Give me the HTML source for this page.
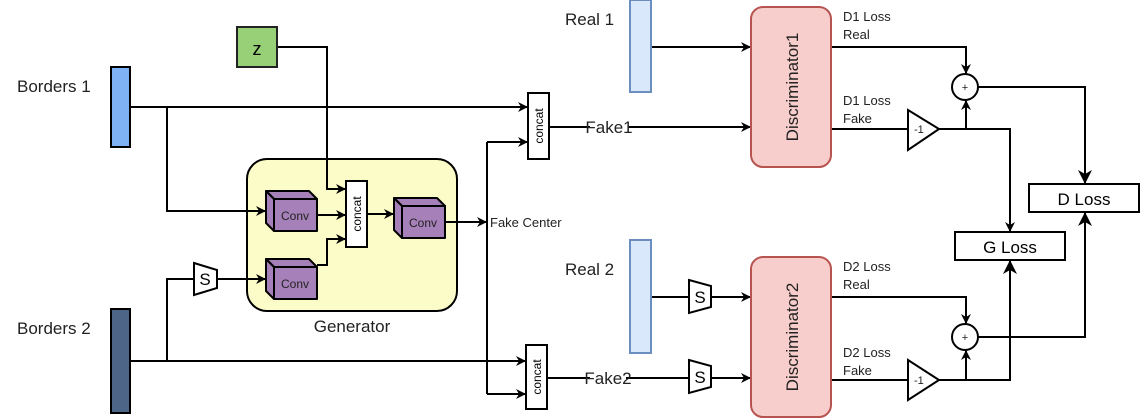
<!DOCTYPE html>
<html><head><meta charset="utf-8"><style>
html,body{margin:0;padding:0;background:#fff;}
svg{display:block;font-family:"Liberation Sans",Arial,sans-serif;}
</style></head><body>
<svg width="1140" height="420" viewBox="0 0 1140 420" xmlns="http://www.w3.org/2000/svg">
<defs>
<marker id="a" markerWidth="10" markerHeight="10" refX="9" refY="5" orient="auto" markerUnits="userSpaceOnUse">
<path d="M0,0 L10,5 L0,10 L3,5 Z" fill="#000"/></marker>
<marker id="b" markerWidth="14" markerHeight="14" refX="13" refY="7" orient="auto" markerUnits="userSpaceOnUse">
<path d="M0,0 L14,7 L0,14 L4,7 Z" fill="#000"/></marker>
</defs>
<!-- generator box first -->
<rect x="247" y="159" width="210" height="152" rx="20" fill="#fcfcc8" stroke="#000" stroke-width="2"/>
<text x="352" y="332" font-size="17" text-anchor="middle" fill="#222">Generator</text>
<g fill="none" stroke="#000" stroke-width="2">
<path d="M131,107 H527" marker-end="url(#a)"/>
<path d="M167,107 V211 H265" marker-end="url(#a)"/>
<path d="M277,47 H327 V189 H345" marker-end="url(#a)"/>
<path d="M317,215 H345" marker-end="url(#a)"/>
<path d="M317,265 H327 V239 H345" marker-end="url(#a)"/>
<path d="M367,214 H393" marker-end="url(#a)"/>
<path d="M445,222 H486" marker-end="url(#a)"/>
<path d="M487,142 V394"/>
<path d="M487,142 H527" marker-end="url(#a)"/>
<path d="M487,394 H525" marker-end="url(#a)"/>
<path d="M131,361 H525" marker-end="url(#a)"/>
<path d="M167,361 V279 H196"/>
<path d="M216,279 H265" marker-end="url(#a)"/>
<path d="M549,127 H590 M628,127 H750" marker-end="url(#a)"/>
<path d="M651,47 H750" marker-end="url(#a)"/>
<path d="M547,378 H590 M626,378 H690"/>
<path d="M711,378 H750" marker-end="url(#a)"/>
<path d="M651,297 H690"/>
<path d="M711,297 H750" marker-end="url(#a)"/>
<path d="M831,47 H966 V73" marker-end="url(#a)"/>
<path d="M831,129 H908"/>
<path d="M939,129 H1010 V231" marker-end="url(#a)"/>
<path d="M966,129 V101" marker-end="url(#a)"/>
<path d="M978,87 H1085 V183" marker-end="url(#b)"/>
<path d="M831,297 H966 V323" marker-end="url(#a)"/>
<path d="M831,380 H908"/>
<path d="M939,380 H1010 V261" marker-end="url(#b)"/>
<path d="M966,380 V351" marker-end="url(#a)"/>
<path d="M978,337 H1085 V213" marker-end="url(#b)"/>
</g>
<rect x="111" y="67" width="19" height="80" fill="#7eb2f5" stroke="#000" stroke-width="2"/>
<rect x="111" y="309" width="19" height="104" fill="#4d6688" stroke="#000" stroke-width="2"/>
<text x="17" y="92" font-size="17" fill="#222">Borders 1</text>
<text x="17" y="334" font-size="17" fill="#222">Borders 2</text>
<rect x="237" y="27" width="40" height="40" fill="#97d077" stroke="#222" stroke-width="2"/>
<text x="257" y="55" font-size="18" text-anchor="middle">z</text>
<g stroke="#000" stroke-width="2" fill="#a680b8" stroke-linejoin="round">
<path d="M266,191 H309 L317,199 H274 Z"/>
<path d="M266,191 L274,199 V231 L266,223 Z"/>
<rect x="274" y="199" width="43" height="32"/>
<path d="M266,259 H309 L317,267 H274 Z"/>
<path d="M266,259 L274,267 V299 L266,291 Z"/>
<rect x="274" y="267" width="43" height="32"/>
<path d="M394,198 H437 L445,206 H402 Z"/>
<path d="M394,198 L402,206 V238 L394,230 Z"/>
<rect x="402" y="206" width="43" height="32"/>
</g>
<g font-size="12" fill="#222">
<text x="295" y="220" text-anchor="middle">Conv</text>
<text x="295" y="288" text-anchor="middle">Conv</text>
<text x="423" y="227" text-anchor="middle">Conv</text>
</g>
<rect x="346" y="181" width="21" height="66" fill="#fff" stroke="#000" stroke-width="2"/>
<text transform="translate(361,214) rotate(-90)" font-size="12" text-anchor="middle">concat</text>
<text x="490" y="227" font-size="13" fill="#222">Fake Center</text>
<rect x="528" y="93" width="21" height="66" fill="#fff" stroke="#000" stroke-width="2"/>
<text transform="translate(543,126) rotate(-90)" font-size="12" text-anchor="middle">concat</text>
<rect x="526" y="345" width="21" height="64" fill="#fff" stroke="#000" stroke-width="2"/>
<text transform="translate(541,377) rotate(-90)" font-size="12" text-anchor="middle">concat</text>
<g fill="#fff" stroke="#000" stroke-width="2">
<path d="M194,263 L217,270 V288 L194,295 Z"/>
<path d="M689,280 L711,286 V307 L689,313 Z"/>
<path d="M689,360 L711,366 V387 L689,393 Z"/>
</g>
<g font-size="17" text-anchor="middle">
<text x="205" y="285">S</text><text x="700" y="303">S</text><text x="700" y="383">S</text>
</g>
<text x="609" y="133" font-size="17" text-anchor="middle" fill="#222">Fake1</text>
<text x="608" y="384" font-size="17" text-anchor="middle" fill="#222">Fake2</text>
<rect x="630" y="0" width="21" height="92" fill="#dae8fc" stroke="#6c8ebf" stroke-width="2"/>
<rect x="630" y="240" width="21" height="113" fill="#dae8fc" stroke="#6c8ebf" stroke-width="2"/>
<text x="565" y="25" font-size="17" fill="#222">Real 1</text>
<text x="565" y="275" font-size="17" fill="#222">Real 2</text>
<rect x="751" y="7" width="80" height="160" rx="12" fill="#f8cecc" stroke="#b85450" stroke-width="2"/>
<rect x="751" y="257" width="80" height="160" rx="12" fill="#f8cecc" stroke="#b85450" stroke-width="2"/>
<text transform="translate(798,87) rotate(-90)" font-size="17" text-anchor="middle" fill="#222">Discriminator1</text>
<text transform="translate(798,337) rotate(-90)" font-size="17" text-anchor="middle" fill="#222">Discriminator2</text>
<g font-size="13" fill="#222">
<text x="843" y="21">D1 Loss</text><text x="843" y="39">Real</text>
<text x="843" y="105">D1 Loss</text><text x="843" y="123">Fake</text>
<text x="843" y="271">D2 Loss</text><text x="843" y="289">Real</text>
<text x="843" y="357">D2 Loss</text><text x="843" y="375">Fake</text>
</g>
<g fill="#fff" stroke="#000" stroke-width="2">
<path d="M908,110 L939,129 L908,150 Z"/>
<path d="M908,360 L939,380 L908,400 Z"/>
<circle cx="965" cy="87" r="13"/>
<circle cx="965" cy="337" r="13"/>
</g>
<g font-size="11" fill="#222">
<text x="914" y="133">-1</text><text x="914" y="384">-1</text>
<text x="965" y="91" text-anchor="middle">+</text><text x="965" y="341" text-anchor="middle">+</text>
</g>
<rect x="1029" y="184" width="110" height="28" fill="#fff" stroke="#000" stroke-width="2"/>
<text x="1084" y="205" font-size="17" text-anchor="middle">D Loss</text>
<rect x="955" y="232" width="110" height="28" fill="#fff" stroke="#000" stroke-width="2"/>
<text x="1010" y="253" font-size="17" text-anchor="middle">G Loss</text>
</svg>
</body></html>
